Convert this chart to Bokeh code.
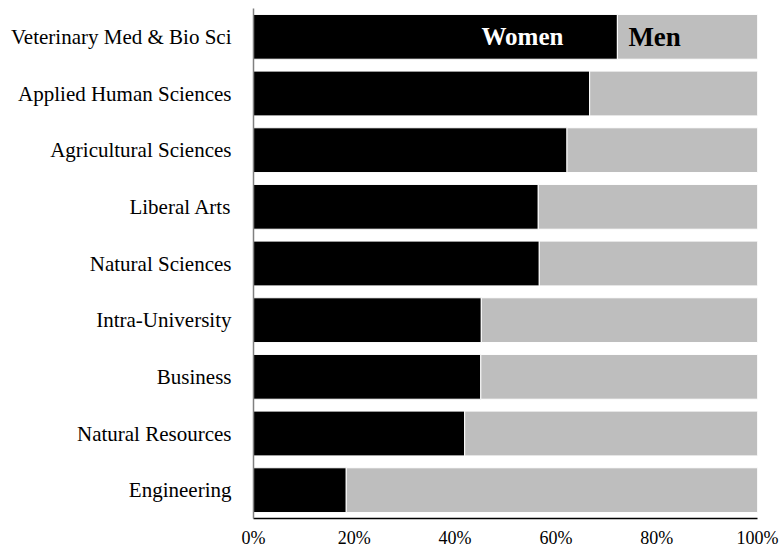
from bokeh.plotting import figure
from bokeh.models import ColumnDataSource, FactorRange, Range1d, FixedTicker
from bokeh.core.properties import value
from bokeh.embed import file_html
from bokeh.resources import INLINE

colleges = ["Veterinary Med & Bio Sci", "Applied Human Sciences", "Agricultural Sciences",
            "Liberal Arts", "Natural Sciences", "Intra-University", "Business",
            "Natural Resources", "Engineering"]
women = [72.2, 66.7, 62.2, 56.5, 56.7, 45.2, 45.1, 41.9, 18.4]
men = [100 - w for w in women]
x_ticks = [0, 20, 40, 60, 80, 100]
x_tick_labels = ["0%", "20%", "40%", "60%", "80%", "100%"]

FONT = "Liberation Serif"

src = ColumnDataSource(data=dict(college=colleges, women=women, men=men,
                                 total=[w + m for w, m in zip(women, men)]))

p = figure(width=781, height=550, output_backend="svg", toolbar_location=None,
           y_range=FactorRange(factors=colleges[::-1], range_padding=0),
           x_range=Range1d(0, 100),
           min_border_left=253, min_border_right=24, min_border_top=8, min_border_bottom=30)

p.hbar(y="college", left=0, right="women", height=0.79, source=src,
       fill_color="black", line_color="white", line_width=1)
p.hbar(y="college", left="women", right="total", height=0.79, source=src,
       fill_color="#bebebe", line_color="white", line_width=1)

lab = ColumnDataSource(data=dict(y=[colleges[0]], x=[women[0]]))
p.text(x="x", y="y", text=value("Women"), source=lab, x_offset=-54,
       text_align="right", text_baseline="middle", text_color="white",
       text_font=value(FONT), text_font_style="bold", text_font_size="25px")
p.text(x="x", y="y", text=value("Men"), source=lab, x_offset=11,
       text_align="left", text_baseline="middle", text_color="black",
       text_font=value(FONT), text_font_style="bold", text_font_size="27px")

p.outline_line_color = None
p.xgrid.visible = False
p.ygrid.visible = False

xa = p.xaxis[0]
xa.ticker = FixedTicker(ticks=x_ticks)
xa.major_label_overrides = {t: l for t, l in zip(x_ticks, x_tick_labels)}
xa.major_tick_line_color = None
xa.minor_tick_line_color = None
xa.axis_line_color = "black"
xa.axis_line_width = 1.5
xa.major_label_standoff = 3
xa.major_label_text_font = FONT
xa.major_label_text_font_size = "18px"
xa.major_label_text_color = "black"

ya = p.yaxis[0]
ya.major_tick_line_color = None
ya.minor_tick_line_color = None
ya.axis_line_color = "#808080"
ya.axis_line_width = 1.5
ya.major_label_standoff = 16
ya.major_label_text_font = FONT
ya.major_label_text_font_size = "21px"
ya.major_label_text_color = "black"

open("out.html", "w").write(file_html(p, INLINE))
